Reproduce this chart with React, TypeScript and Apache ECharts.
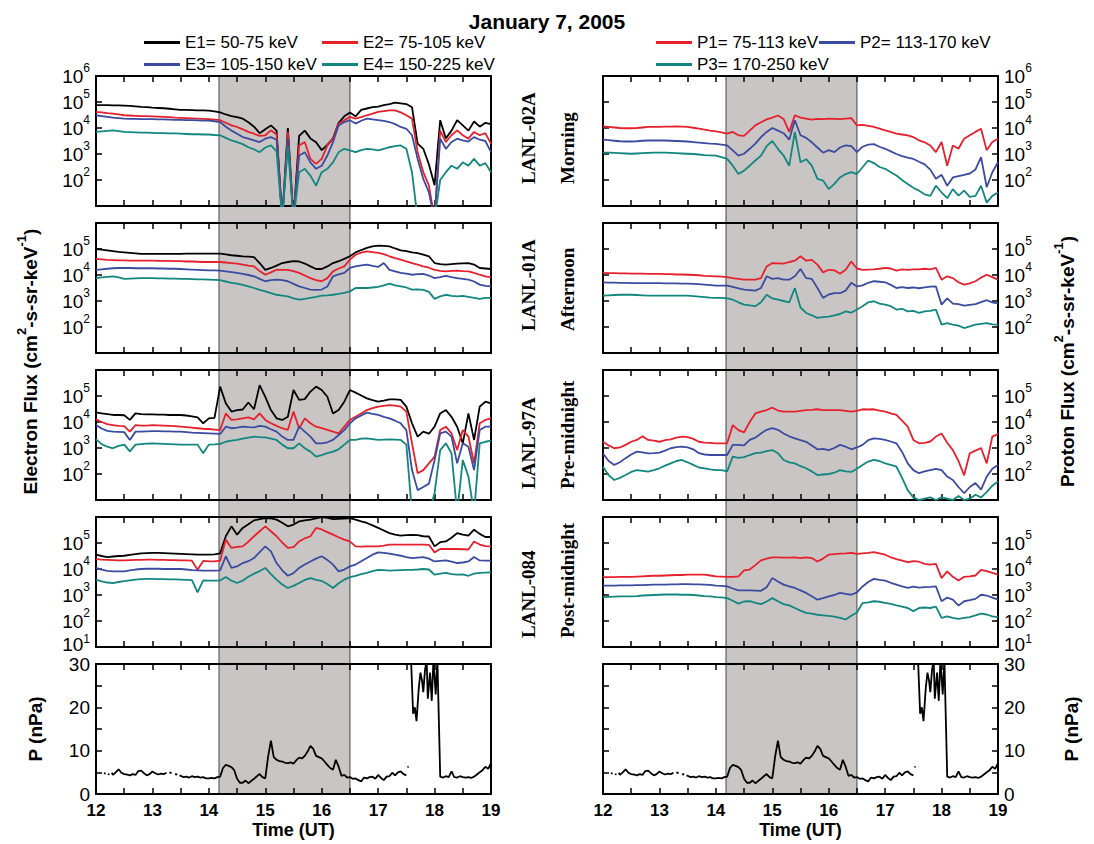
import React, { useEffect, useRef } from "react";
import * as echarts from "echarts";

// ---------------- DATA ----------------
// Time axis (UT hours) shared by all flux series
const TIME = [
  12.0, 12.1, 12.2, 12.3, 12.4, 12.5, 12.6, 12.7, 12.8, 12.9,
  13.0, 13.1, 13.2, 13.3, 13.4, 13.5, 13.6, 13.7, 13.8, 13.9,
  14.0, 14.1, 14.2, 14.3, 14.4, 14.5, 14.6, 14.7, 14.8, 14.9,
  15.0, 15.1, 15.2, 15.3, 15.4, 15.5, 15.6, 15.7, 15.8, 15.9,
  16.0, 16.1, 16.2, 16.3, 16.4, 16.5, 16.6, 16.7, 16.8, 16.9,
  17.0, 17.1, 17.2, 17.3, 17.4, 17.5, 17.6, 17.7, 17.8, 17.9,
  18.0, 18.1, 18.2, 18.3, 18.4, 18.5, 18.6, 18.7, 18.8, 18.9,
  19.0,
];

// Flux values are stored as log10(flux) (values < 1 are dropouts below the axis)
// LANL-02A electrons
const LANL02A_E1 = [
  4.88, 4.88, 4.88, 4.87, 4.87, 4.86, 4.85, 4.83, 4.81, 4.80,
  4.78, 4.77, 4.76, 4.74, 4.72, 4.70, 4.70, 4.69, 4.68, 4.68,
  4.67, 4.64, 4.60, 4.52, 4.46, 4.42, 4.36, 4.22, 4.05, 3.80,
  3.95, 4.10, 3.90, 0.5, 4.00, 0.5, 3.70, 3.90, 3.60, 3.45,
  3.15, 3.35, 3.60, 4.20, 4.45, 4.60, 4.45, 4.70, 4.75, 4.80,
  4.82, 4.88, 4.92, 4.98, 4.95, 4.92, 4.80, 3.40, 3.20, 2.60,
  1.80, 4.30, 3.60, 3.90, 4.30, 4.10, 3.90, 4.25, 4.05, 4.20,
  4.15,
];
const LANL02A_E2 = [
  4.62, 4.60, 4.57, 4.55, 4.52, 4.49, 4.48, 4.47, 4.46, 4.46,
  4.45, 4.44, 4.43, 4.42, 4.40, 4.39, 4.38, 4.37, 4.36, 4.35,
  4.34, 4.32, 4.30, 4.20, 4.10, 4.04, 3.95, 3.85, 3.78, 3.70,
  3.72, 3.91, 3.75, 0.5, 3.85, 0.5, 3.33, 3.46, 2.81, 2.62,
  2.81, 3.33, 3.59, 4.17, 4.30, 4.43, 4.36, 4.42, 4.49, 4.55,
  4.62, 4.65, 4.68, 4.68, 4.60, 4.49, 4.36, 3.07, 2.30, 1.78,
  0.5, 3.90, 3.46, 3.72, 3.91, 3.72, 3.59, 3.85, 3.72, 3.80,
  3.40,
];
const LANL02A_E3 = [
  4.49, 4.46, 4.43, 4.40, 4.38, 4.36, 4.35, 4.35, 4.34, 4.34,
  4.34, 4.33, 4.33, 4.32, 4.31, 4.31, 4.30, 4.30, 4.29, 4.28,
  4.28, 4.26, 4.23, 4.05, 3.90, 3.78, 3.65, 3.59, 3.52, 3.46,
  3.59, 3.65, 3.55, 0.5, 3.59, 0.5, 2.94, 3.07, 2.68, 2.43,
  2.55, 2.94, 3.46, 4.10, 4.23, 4.30, 4.17, 4.28, 4.36, 4.33,
  4.30, 4.27, 4.23, 4.15, 4.04, 3.97, 3.72, 2.81, 2.04, 1.52,
  0.5, 3.59, 3.20, 3.46, 3.59, 3.52, 3.48, 3.65, 3.55, 3.50,
  3.07,
];
const LANL02A_E4 = [
  3.85, 3.87, 3.89, 3.91, 3.88, 3.85, 3.84, 3.83, 3.82, 3.82,
  3.81, 3.80, 3.80, 3.79, 3.79, 3.78, 3.77, 3.76, 3.76, 3.75,
  3.75, 3.73, 3.72, 3.62, 3.52, 3.46, 3.38, 3.26, 3.18, 3.07,
  3.25, 3.33, 3.10, 0.5, 3.30, 0.5, 2.30, 2.43, 2.17, 1.78,
  2.30, 2.43, 2.68, 3.07, 3.20, 3.14, 3.07, 3.15, 3.20, 3.18,
  3.14, 3.20, 3.26, 3.30, 3.33, 3.20, 2.30, 0.5, 0.5, 0.5,
  0.5, 2.00, 2.30, 2.55, 2.43, 2.68, 2.55, 2.81, 2.55, 2.65,
  2.30,
];
// LANL-01A electrons
const LANL01A_E1 = [
  5.00, 4.98, 4.95, 4.92, 4.89, 4.87, 4.85, 4.83, 4.81, 4.81,
  4.81, 4.81, 4.81, 4.81, 4.81, 4.81, 4.82, 4.82, 4.82, 4.82,
  4.82, 4.82, 4.82, 4.79, 4.76, 4.74, 4.72, 4.71, 4.69, 4.46,
  4.20, 4.27, 4.36, 4.46, 4.50, 4.53, 4.52, 4.44, 4.33, 4.23,
  4.23, 4.33, 4.46, 4.53, 4.62, 4.72, 4.87, 4.96, 5.04, 5.10,
  5.13, 5.12, 5.10, 5.02, 4.95, 4.92, 4.87, 4.84, 4.78, 4.72,
  4.46, 4.42, 4.40, 4.42, 4.44, 4.45, 4.46, 4.40, 4.27, 4.25,
  4.23,
];
const LANL01A_E2 = [
  4.62, 4.60, 4.58, 4.57, 4.56, 4.56, 4.55, 4.55, 4.55, 4.55,
  4.55, 4.54, 4.54, 4.54, 4.53, 4.53, 4.52, 4.52, 4.51, 4.50,
  4.50, 4.50, 4.50, 4.48, 4.46, 4.44, 4.40, 4.36, 4.33, 4.15,
  4.01, 4.10, 4.20, 4.20, 4.20, 4.15, 4.08, 3.98, 3.88, 3.80,
  3.76, 3.88, 4.14, 4.25, 4.33, 4.59, 4.78, 4.86, 4.91, 4.88,
  4.85, 4.80, 4.72, 4.65, 4.59, 4.52, 4.46, 4.40, 4.33, 4.28,
  4.20, 4.16, 4.14, 4.16, 4.17, 4.15, 4.14, 4.08, 4.01, 3.95,
  3.91,
];
const LANL01A_E3 = [
  4.20, 4.22, 4.24, 4.26, 4.27, 4.27, 4.27, 4.26, 4.26, 4.26,
  4.26, 4.25, 4.25, 4.24, 4.24, 4.23, 4.22, 4.21, 4.20, 4.19,
  4.18, 4.18, 4.17, 4.14, 4.11, 4.08, 4.04, 4.00, 3.95, 3.85,
  3.76, 3.80, 3.82, 3.80, 3.76, 3.66, 3.56, 3.50, 3.44, 3.43,
  3.44, 3.56, 3.95, 4.02, 4.08, 4.27, 4.33, 4.37, 4.40, 4.35,
  4.31, 4.46, 4.20, 4.14, 4.08, 4.05, 4.01, 4.03, 4.04, 3.98,
  3.88, 3.92, 3.97, 3.92, 3.88, 3.85, 3.82, 3.75, 3.63, 3.58,
  3.56,
];
const LANL01A_E4 = [
  3.88, 3.91, 3.93, 3.95, 3.91, 3.85, 3.86, 3.87, 3.88, 3.88,
  3.88, 3.87, 3.87, 3.86, 3.86, 3.85, 3.85, 3.84, 3.83, 3.83,
  3.82, 3.81, 3.80, 3.75, 3.70, 3.67, 3.62, 3.56, 3.50, 3.43,
  3.37, 3.30, 3.24, 3.21, 3.18, 3.10, 3.05, 3.08, 3.12, 3.16,
  3.21, 3.22, 3.24, 3.27, 3.31, 3.37, 3.50, 3.50, 3.50, 3.52,
  3.54, 3.60, 3.67, 3.60, 3.56, 3.52, 3.44, 3.45, 3.43, 3.35,
  3.08, 3.18, 3.24, 3.20, 3.18, 3.20, 3.16, 3.12, 3.08, 3.12,
  3.12,
];
// LANL-97A electrons
const LANL97A_E1 = [
  4.37, 4.33, 4.30, 4.27, 4.27, 4.26, 4.08, 4.33, 4.30, 4.29,
  4.29, 4.28, 4.28, 4.27, 4.27, 4.27, 4.25, 4.22, 4.18, 3.95,
  4.14, 4.16, 5.36, 4.72, 4.40, 4.46, 4.48, 4.75, 4.49, 5.42,
  4.97, 4.46, 4.14, 4.08, 4.20, 5.23, 4.85, 4.88, 5.17, 5.36,
  5.23, 4.97, 4.33, 4.46, 4.78, 5.23, 5.13, 5.02, 4.91, 4.84,
  4.78, 4.82, 4.87, 4.87, 4.85, 4.59, 3.95, 3.44, 3.63, 3.55,
  3.82, 4.33, 4.46, 4.20, 3.82, 3.18, 4.33, 3.31, 4.59, 4.78,
  4.72,
];
const LANL97A_E2 = [
  4.10, 4.00, 3.92, 3.88, 3.85, 3.84, 3.63, 3.88, 3.86, 3.86,
  3.88, 3.87, 3.86, 3.85, 3.84, 3.82, 3.80, 3.78, 3.76, 3.74,
  3.73, 3.71, 3.69, 4.33, 4.08, 4.10, 4.14, 4.18, 4.10, 4.33,
  4.08, 3.95, 3.85, 3.76, 3.70, 4.40, 3.75, 4.14, 3.95, 3.82,
  3.76, 3.70, 3.63, 3.56, 3.82, 4.08, 4.20, 4.33, 4.46, 4.53,
  4.59, 4.62, 4.65, 4.63, 4.59, 4.40, 3.18, 2.03, 2.15, 2.41,
  2.67, 3.69, 3.82, 3.56, 2.92, 3.69, 3.44, 2.41, 3.95, 4.08,
  4.14,
];
const LANL97A_E3 = [
  3.88, 3.75, 3.66, 3.63, 3.62, 3.61, 3.31, 3.63, 3.63, 3.64,
  3.65, 3.65, 3.64, 3.64, 3.63, 3.63, 3.61, 3.59, 3.58, 3.57,
  3.56, 3.55, 3.54, 3.82, 3.76, 3.78, 3.82, 3.80, 3.79, 3.85,
  3.82, 3.72, 3.63, 3.44, 3.31, 3.31, 3.82, 3.63, 3.44, 3.18,
  3.18, 3.22, 3.31, 3.50, 3.69, 3.95, 4.14, 4.25, 4.36, 4.31,
  4.27, 4.20, 4.14, 4.05, 3.95, 3.69, 2.15, 1.38, 1.50, 1.63,
  2.54, 3.56, 3.63, 3.44, 2.41, 3.18, 3.05, 2.15, 3.69, 3.82,
  3.82,
];
const LANL97A_E4 = [
  3.33, 3.15, 3.05, 2.99, 3.08, 3.13, 2.87, 3.13, 3.15, 3.17,
  3.18, 3.17, 3.16, 3.15, 3.14, 3.13, 3.13, 3.13, 3.13, 2.80,
  3.13, 3.14, 3.16, 3.24, 3.28, 3.31, 3.36, 3.40, 3.44, 3.42,
  3.41, 3.36, 3.31, 3.13, 2.99, 2.99, 3.18, 2.99, 2.86, 2.67,
  2.73, 2.80, 2.86, 2.95, 3.13, 3.31, 3.31, 3.36, 3.37, 3.34,
  3.31, 3.32, 3.33, 3.32, 3.31, 3.13, 0.5, 0.5, 0.5, 0.5,
  1.26, 2.92, 3.18, 2.80, 0.5, 2.54, 1.90, 0.5, 3.18, 3.24,
  3.28,
];
// LANL-084 electrons
const LANL084_E1 = [
  4.55, 4.50, 4.46, 4.48, 4.50, 4.51, 4.54, 4.57, 4.60, 4.61,
  4.62, 4.62, 4.61, 4.60, 4.59, 4.58, 4.57, 4.56, 4.55, 4.55,
  4.55, 4.56, 4.60, 5.26, 5.64, 5.32, 5.58, 5.72, 5.87, 5.92,
  5.96, 5.95, 5.90, 5.78, 5.64, 5.71, 5.83, 5.87, 5.90, 5.95,
  6.00, 5.97, 5.92, 5.93, 5.94, 5.96, 5.90, 5.83, 5.77, 5.68,
  5.58, 5.48, 5.38, 5.32, 5.28, 5.30, 5.31, 5.30, 5.26, 5.25,
  4.87, 5.03, 5.06, 5.20, 5.38, 5.32, 5.28, 5.51, 5.35, 5.23,
  5.23,
];
const LANL084_E2 = [
  4.38, 4.36, 4.35, 4.34, 4.33, 4.33, 4.34, 4.35, 4.35, 4.36,
  4.36, 4.35, 4.35, 4.34, 4.34, 4.33, 4.33, 4.32, 3.97, 4.31,
  4.29, 4.29, 4.32, 5.13, 4.81, 4.85, 4.87, 5.05, 5.26, 5.45,
  5.64, 5.45, 5.26, 5.02, 4.81, 4.84, 5.06, 5.18, 5.26, 5.58,
  5.52, 5.42, 5.32, 5.22, 5.13, 5.06, 4.87, 4.86, 4.87, 4.87,
  4.87, 4.90, 4.94, 4.94, 4.94, 4.94, 4.94, 4.94, 4.94, 4.93,
  4.64, 4.77, 4.77, 4.77, 4.77, 4.76, 4.75, 5.06, 4.94, 4.88,
  4.87,
];
const LANL084_E3 = [
  4.04, 3.98, 3.93, 3.91, 3.91, 3.91, 3.95, 3.98, 4.00, 4.01,
  4.01, 4.01, 4.00, 4.00, 4.00, 4.00, 3.98, 3.96, 3.95, 3.94,
  3.94, 3.94, 3.95, 4.49, 4.04, 4.10, 4.23, 4.30, 4.42, 4.65,
  4.87, 4.68, 4.23, 3.95, 3.74, 3.84, 4.04, 4.17, 4.29, 4.40,
  4.49, 4.35, 4.17, 3.91, 3.98, 4.10, 4.17, 4.30, 4.42, 4.55,
  4.64, 4.62, 4.59, 4.55, 4.51, 4.46, 4.42, 4.44, 4.46, 4.40,
  4.29, 4.31, 4.33, 4.28, 4.23, 4.25, 4.29, 4.46, 4.33, 4.32,
  4.32,
];
const LANL084_E4 = [
  3.59, 3.52, 3.48, 3.46, 3.50, 3.53, 3.56, 3.59, 3.61, 3.62,
  3.62, 3.61, 3.61, 3.60, 3.60, 3.59, 3.58, 3.57, 3.10, 3.56,
  3.55, 3.55, 3.56, 3.69, 3.55, 3.46, 3.55, 3.70, 3.82, 3.92,
  4.04, 3.80, 3.59, 3.40, 3.27, 3.35, 3.46, 3.58, 3.65, 3.58,
  3.54, 3.42, 3.27, 3.45, 3.59, 3.69, 3.74, 3.80, 3.85, 3.92,
  3.97, 3.96, 3.94, 3.95, 3.96, 3.97, 3.97, 3.98, 4.00, 3.98,
  3.78, 3.82, 3.85, 3.80, 3.78, 3.79, 3.74, 3.82, 3.85, 3.86,
  3.87,
];

// LANL-02A protons
const LANL02A_P1 = [
  4.06, 4.04, 4.02, 4.00, 3.99, 3.99, 4.00, 4.02, 4.04, 4.04,
  4.04, 4.05, 4.05, 4.06, 4.05, 4.04, 4.01, 3.98, 3.94, 3.90,
  3.87, 3.83, 3.78, 3.85, 3.72, 3.70, 3.90, 4.10, 4.22, 4.33,
  4.40, 4.48, 4.35, 3.85, 4.49, 4.40, 4.36, 4.32, 4.35, 4.34,
  4.36, 4.35, 4.34, 4.36, 4.38, 4.10, 4.12, 4.08, 4.04, 3.98,
  3.91, 3.85, 3.78, 3.75, 3.72, 3.65, 3.52, 3.45, 3.33, 3.07,
  3.46, 2.55, 3.33, 3.20, 3.59, 3.72, 3.85, 3.97, 3.14, 3.46,
  3.59,
];
const LANL02A_P2 = [
  3.55, 3.53, 3.51, 3.49, 3.48, 3.48, 3.49, 3.51, 3.52, 3.52,
  3.52, 3.52, 3.51, 3.50, 3.49, 3.48, 3.46, 3.44, 3.42, 3.40,
  3.39, 3.36, 3.33, 3.14, 2.94, 3.01, 3.20, 3.40, 3.65, 3.85,
  4.00, 3.90, 3.80, 3.55, 4.30, 3.72, 3.62, 3.45, 3.25, 3.05,
  3.15, 3.07, 3.25, 3.33, 3.30, 3.07, 3.28, 3.36, 3.38, 3.28,
  3.20, 3.10, 3.00, 2.92, 2.86, 2.81, 2.70, 2.60, 2.40, 2.05,
  2.20, 1.78, 2.10, 2.15, 2.20, 2.25, 2.40, 2.88, 1.72, 2.30,
  2.68,
];
const LANL02A_P3 = [
  3.05, 3.05, 3.04, 3.03, 3.02, 3.01, 3.02, 3.03, 3.04, 3.05,
  3.05, 3.05, 3.04, 3.03, 3.02, 3.01, 3.00, 2.98, 2.96, 2.95,
  2.94, 2.88, 2.81, 2.55, 2.23, 2.36, 2.55, 2.75, 2.94, 3.30,
  3.50, 3.20, 2.94, 2.55, 3.85, 2.68, 2.80, 2.55, 2.04, 1.98,
  1.65, 1.85, 2.10, 2.23, 2.30, 2.23, 2.49, 2.75, 2.65, 2.50,
  2.43, 2.30, 2.17, 2.00, 1.85, 1.70, 1.59, 1.45, 1.39, 1.78,
  1.52, 1.30, 1.65, 1.40, 1.59, 1.35, 1.39, 1.78, 1.13, 1.39,
  1.52,
];
// LANL-01A protons
const LANL01A_P1 = [
  4.08, 4.07, 4.07, 4.06, 4.06, 4.05, 4.05, 4.05, 4.04, 4.04,
  4.04, 4.03, 4.03, 4.02, 4.02, 4.01, 4.00, 3.99, 3.97, 3.96,
  3.95, 3.94, 3.92, 3.88, 3.85, 3.82, 3.82, 3.82, 3.88, 4.33,
  4.46, 4.45, 4.44, 4.50, 4.55, 4.72, 4.55, 4.58, 4.40, 4.10,
  4.20, 4.18, 4.05, 4.20, 4.52, 4.25, 4.20, 4.21, 4.22, 4.24,
  4.27, 4.25, 4.17, 4.22, 4.20, 4.22, 4.22, 4.24, 4.22, 4.27,
  3.82, 3.95, 3.88, 3.72, 3.63, 3.68, 3.76, 3.90, 4.01, 3.92,
  3.82,
];
const LANL01A_P2 = [
  3.72, 3.71, 3.71, 3.70, 3.70, 3.69, 3.69, 3.69, 3.69, 3.69,
  3.69, 3.68, 3.68, 3.68, 3.67, 3.67, 3.66, 3.65, 3.63, 3.61,
  3.59, 3.59, 3.59, 3.54, 3.49, 3.44, 3.42, 3.40, 3.50, 3.95,
  3.85, 3.88, 3.82, 3.82, 3.95, 4.23, 3.88, 3.85, 3.50, 3.12,
  3.25, 3.30, 3.30, 3.40, 3.70, 3.56, 3.60, 3.70, 3.76, 3.74,
  3.72, 3.62, 3.50, 3.53, 3.50, 3.52, 3.49, 3.52, 3.55, 3.56,
  2.86, 3.10, 2.90, 2.88, 2.82, 2.85, 2.88, 2.96, 3.03, 2.95,
  2.90,
];
const LANL01A_P3 = [
  3.21, 3.22, 3.23, 3.24, 3.24, 3.24, 3.23, 3.22, 3.21, 3.21,
  3.21, 3.21, 3.21, 3.21, 3.21, 3.21, 3.19, 3.17, 3.15, 3.13,
  3.12, 3.12, 3.10, 3.05, 2.95, 2.86, 2.83, 2.80, 2.95, 3.24,
  3.10, 3.05, 3.00, 2.95, 3.50, 2.75, 2.54, 2.45, 2.35, 2.38,
  2.40, 2.45, 2.50, 2.60, 2.55, 2.67, 2.80, 2.95, 2.99, 2.90,
  2.86, 2.80, 2.67, 2.70, 2.60, 2.62, 2.54, 2.60, 2.62, 2.67,
  2.09, 2.15, 2.09, 2.05, 1.96, 2.02, 2.09, 2.12, 2.15, 2.10,
  2.09,
];
// LANL-97A protons
const LANL97A_P1 = [
  3.24, 3.10, 2.99, 3.02, 3.12, 3.24, 3.31, 3.45, 3.31, 3.28,
  3.24, 3.30, 3.33, 3.40, 3.44, 3.42, 3.35, 3.24, 3.21, 3.20,
  3.18, 3.18, 3.18, 3.88, 3.69, 3.60, 4.00, 4.33, 4.40, 4.46,
  4.55, 4.44, 4.40, 4.40, 4.40, 4.43, 4.46, 4.47, 4.49, 4.46,
  4.46, 4.46, 4.46, 4.43, 4.40, 4.43, 4.49, 4.48, 4.49, 4.44,
  4.40, 4.33, 4.27, 4.05, 3.82, 3.31, 3.18, 3.20, 3.25, 3.44,
  3.56, 3.20, 2.92, 2.50, 1.95, 2.80, 2.90, 3.00, 2.41, 3.44,
  3.54,
];
const LANL97A_P2 = [
  2.79, 2.50, 2.35, 2.45, 2.61, 2.75, 2.86, 2.83, 2.79, 2.80,
  2.82, 2.90, 2.99, 3.03, 3.05, 3.02, 2.95, 2.80, 2.75, 2.73,
  2.73, 2.73, 2.73, 3.12, 3.12, 3.10, 3.31, 3.40, 3.56, 3.70,
  3.76, 3.70, 3.56, 3.45, 3.37, 3.30, 3.24, 3.10, 2.95, 2.97,
  2.92, 3.00, 3.12, 3.05, 2.95, 3.02, 3.12, 3.30, 3.37, 3.35,
  3.31, 3.25, 3.18, 2.85, 2.41, 2.15, 2.03, 2.10, 2.15, 2.20,
  2.15, 1.90, 1.77, 1.50, 1.26, 1.50, 1.65, 1.40, 1.90, 2.20,
  2.35,
];
const LANL97A_P3 = [
  2.28, 1.95, 1.77, 1.85, 1.96, 2.08, 2.15, 2.12, 2.09, 2.15,
  2.22, 2.32, 2.41, 2.50, 2.54, 2.45, 2.35, 2.25, 2.22, 2.18,
  2.15, 2.15, 2.10, 2.67, 2.62, 2.65, 2.73, 2.80, 2.82, 2.88,
  2.92, 2.80, 2.54, 2.45, 2.41, 2.30, 2.22, 2.10, 1.96, 1.98,
  2.00, 2.05, 2.15, 2.10, 2.08, 2.20, 2.35, 2.48, 2.54, 2.50,
  2.41, 2.35, 2.28, 1.85, 1.38, 1.10, 1.00, 1.05, 1.10, 1.00,
  1.10, 1.05, 1.00, 1.15, 1.00, 1.05, 1.20, 1.10, 1.30, 1.55,
  1.71,
];
// LANL-084 protons
const LANL084_P1 = [
  3.69, 3.69, 3.69, 3.70, 3.70, 3.70, 3.71, 3.72, 3.73, 3.74,
  3.74, 3.75, 3.76, 3.77, 3.77, 3.78, 3.78, 3.78, 3.78, 3.75,
  3.72, 3.71, 3.70, 3.70, 3.72, 3.95, 3.98, 4.15, 4.33, 4.40,
  4.45, 4.45, 4.44, 4.44, 4.45, 4.42, 4.45, 4.42, 4.29, 4.40,
  4.55, 4.57, 4.59, 4.60, 4.62, 4.58, 4.60, 4.62, 4.65, 4.60,
  4.55, 4.45, 4.38, 4.32, 4.26, 4.30, 4.28, 4.20, 4.17, 4.20,
  3.65, 3.91, 3.70, 3.56, 3.70, 3.72, 3.75, 3.97, 3.92, 3.85,
  3.78,
];
const LANL084_P2 = [
  3.36, 3.36, 3.36, 3.37, 3.37, 3.37, 3.38, 3.38, 3.39, 3.40,
  3.40, 3.40, 3.41, 3.41, 3.42, 3.42, 3.41, 3.41, 3.40, 3.39,
  3.36, 3.35, 3.33, 3.25, 3.18, 3.18, 3.18, 3.17, 3.16, 3.30,
  3.65, 3.52, 3.40, 3.33, 3.27, 3.18, 3.08, 2.95, 2.82, 2.88,
  2.95, 3.00, 3.08, 3.04, 3.01, 3.10, 3.33, 3.50, 3.62, 3.58,
  3.55, 3.47, 3.40, 3.33, 3.27, 3.32, 3.28, 3.30, 3.31, 3.33,
  2.76, 2.90, 2.82, 2.59, 2.76, 2.80, 2.85, 3.01, 2.98, 2.90,
  2.82,
];
const LANL084_P3 = [
  2.92, 2.93, 2.94, 2.95, 2.95, 2.95, 2.96, 2.98, 2.99, 3.00,
  3.01, 3.02, 3.02, 3.02, 3.01, 3.01, 3.00, 2.98, 2.96, 2.95,
  2.92, 2.91, 2.88, 2.78, 2.67, 2.75, 2.76, 2.70, 2.65, 2.75,
  2.88, 2.76, 2.65, 2.60, 2.50, 2.40, 2.31, 2.28, 2.24, 2.22,
  2.20, 2.17, 2.12, 2.06, 2.20, 2.33, 2.69, 2.72, 2.76, 2.74,
  2.70, 2.66, 2.60, 2.55, 2.50, 2.38, 2.50, 2.52, 2.50, 2.55,
  2.12, 2.18, 2.12, 2.08, 2.12, 2.15, 2.22, 2.28, 2.25, 2.18,
  2.15,
];

// Solar wind dynamic pressure (nPa); null = data gap
const P_TIME = [
  12.14, 12.17, 12.19, 12.21, 12.24, 12.26, 12.28, 12.30, 12.35, 12.40,
  12.45, 12.50, 12.55, 12.60, 12.65, 12.70, 12.75, 12.80, 12.85, 12.90,
  12.95, 13.00, 13.05, 13.10, 13.15, 13.20, 13.25, 13.28, 13.30, 13.34,
  13.36, 13.40, 13.44, 13.46, 13.48, 13.50, 13.55, 13.60, 13.65, 13.70,
  13.75, 13.80, 13.85, 13.90, 13.95, 14.00, 14.05, 14.10, 14.15, 14.20,
  14.25, 14.30, 14.35, 14.40, 14.45, 14.50, 14.55, 14.60, 14.65, 14.70,
  14.75, 14.80, 14.85, 14.90, 14.95, 15.00, 15.05, 15.10, 15.15, 15.20,
  15.25, 15.30, 15.35, 15.40, 15.45, 15.50, 15.55, 15.60, 15.65, 15.70,
  15.75, 15.80, 15.85, 15.90, 15.95, 16.00, 16.05, 16.10, 16.15, 16.20,
  16.25, 16.30, 16.35, 16.40, 16.45, 16.50, 16.55, 16.60, 16.65, 16.70,
  16.75, 16.80, 16.85, 16.90, 16.95, 17.00, 17.05, 17.10, 17.15, 17.20,
  17.25, 17.30, 17.35, 17.40, 17.45, 17.50, 17.51, 17.52, 17.54, 17.56,
  17.58, 17.62, 17.65, 17.68, 17.72, 17.75, 17.78, 17.80, 17.83, 17.86,
  17.88, 17.92, 17.95, 17.98, 18.02, 18.05, 18.10, 18.15, 18.20, 18.25,
  18.30, 18.35, 18.40, 18.45, 18.50, 18.55, 18.60, 18.65, 18.70, 18.75,
  18.80, 18.85, 18.90, 18.95, 19.00,
];
const P_NPA = [
  4.8, 4.7, null, 4.6, 4.5, null, 4.9, 4.4, 5.0, 5.7,
  4.9, 4.6, 4.5, 4.3, 4.6, 4.4, 5.3, 5.4, 4.8, 4.3,
  4.6, 5.2, 4.8, 4.5, 4.7, 4.6, 4.9, null, 5.0, 4.8,
  null, 4.6, 4.5, null, 4.3, 4.2, 3.9, 4.0, 3.8, 4.1,
  3.9, 4.0, 3.8, 3.9, 3.6, 3.6, 3.7, 3.6, 3.9, 4.0,
  6.0, 6.7, 6.5, 6.2, 5.5, 3.5, 2.6, 2.6, 3.1, 2.5,
  3.0, 3.5, 4.1, 4.6, 3.9, 3.6, 8.6, 12.3, 8.5, 7.9,
  7.6, 7.5, 7.2, 7.1, 7.3, 7.0, 7.8, 8.4, 8.2, 8.8,
  9.8, 11.1, 10.4, 8.8, 8.5, 8.2, 7.5, 6.7, 6.0, 5.6,
  7.9, 6.3, 4.2, 4.4, 3.8, 3.9, 3.5, 3.6, 3.2, 2.9,
  3.8, 3.6, 3.9, 4.0, 3.5, 4.4, 3.7, 3.2, 4.0, 4.1,
  4.9, 4.3, 5.0, 5.2, 4.6, 4.3, null, 6.2, 6.3, null,
  32, 18.5, 20.0, 16.8, 24.5, 28.0, 26.0, 23.5, 28.5, 31,
  22, 28, 21.5, 31, 23, 31, 4.0, 3.8, 4.1, 3.9,
  5.2, 3.9, 3.8, 4.1, 3.9, 3.8, 3.9, 3.7, 4.0, 4.5,
  5.0, 5.5, 6.3, 5.8, 7.1,
];

const SHADE_START = 14.18;
const SHADE_END = 16.5;

const E_NAMES = ["E1= 50-75 keV", "E2= 75-105 keV", "E3= 105-150 keV", "E4= 150-225 keV"];
const P_NAMES = ["P1= 75-113 keV", "P2= 113-170 keV", "P3= 170-250 keV"];
const STATIONS = ["LANL-02A", "LANL-01A", "LANL-97A", "LANL-084"];
const SECTORS = ["Morning", "Afternoon", "Pre-midnight", "Post-midnight"];
// exponents that carry a tick label on each flux row
const LOG_LABELS = [[2, 3, 4, 5, 6], [2, 3, 4, 5], [2, 3, 4, 5], [1, 2, 3, 4, 5]];

const E_ROWS = [
  [LANL02A_E1, LANL02A_E2, LANL02A_E3, LANL02A_E4],
  [LANL01A_E1, LANL01A_E2, LANL01A_E3, LANL01A_E4],
  [LANL97A_E1, LANL97A_E2, LANL97A_E3, LANL97A_E4],
  [LANL084_E1, LANL084_E2, LANL084_E3, LANL084_E4],
];
const P_ROWS = [
  [LANL02A_P1, LANL02A_P2, LANL02A_P3],
  [LANL01A_P1, LANL01A_P2, LANL01A_P3],
  [LANL97A_P1, LANL97A_P2, LANL97A_P3],
  [LANL084_P1, LANL084_P2, LANL084_P3],
];

// ---------------- STYLE / LAYOUT ----------------
const E_COLORS = ["#000000", "#e6202c", "#3b4ba0", "#12877f"];
const P_COLORS = ["#e6202c", "#3b4ba0", "#12877f"];
const FONT = "'Liberation Sans', Arial, sans-serif";
const SERIF = "'Liberation Serif', 'Times New Roman', serif";
const COL_LEFT = [96, 603];
const COL_W = 395;
const ROW_TOP = [76, 223, 370, 517, 664];
const ROW_H = 130;
const LABEL_START = [184, 331, 489, 638];
const LINE_W = 1.8;

function buildOption() {
  const grid: any[] = [];
  const xAxis: any[] = [];
  const yAxis: any[] = [];
  const series: any[] = [];
  const axisLine = { show: true, onZero: false, lineStyle: { color: "#000", width: 2 } };
  const tick = { show: true, inside: true, length: 6, lineStyle: { color: "#000", width: 1.5 } };
  const noTick = { show: false };

  for (let c = 0; c < 2; c++) {
    for (let r = 0; r < 5; r++) {
      const g = c * 5 + r;
      grid.push({ left: COL_LEFT[c], top: ROW_TOP[r], width: COL_W, height: ROW_H });
      const isP = r === 4;
      xAxis.push({
        type: "value", gridIndex: g, min: 12, max: 19, interval: 0.5, position: "bottom",
        axisLine, axisTick: tick, splitLine: { show: false },
        axisLabel: {
          show: isP, margin: 8, fontSize: 17, fontWeight: "bold", fontFamily: FONT, color: "#000",
          formatter: (v: number) => (Math.abs(v - Math.round(v)) < 1e-6 ? String(Math.round(v)) : ""),
        },
        name: isP ? "Time (UT)" : "", nameLocation: "middle", nameGap: 27,
        nameTextStyle: { fontSize: 18, fontWeight: "bold", fontFamily: FONT, color: "#000" },
      });
      xAxis.push({
        type: "value", gridIndex: g, min: 12, max: 19, interval: 0.5, position: "top",
        axisLine, axisTick: tick, splitLine: { show: false }, axisLabel: { show: false },
      });
      const labelPos = c === 0 ? "left" : "right";
      const otherPos = c === 0 ? "right" : "left";
      const base = isP
        ? { type: "value", min: 0, max: 30, interval: 5 }
        : { type: "log", logBase: 10, min: 10, max: 1e6, splitNumber: 5 };
      const labeled = {
        ...base, gridIndex: g, position: labelPos, axisLine, axisTick: tick, splitLine: { show: false },
        axisLabel: isP
          ? { show: true, margin: 6, fontSize: 19, fontFamily: FONT, color: "#000",
              formatter: (v: number) => (Math.round(v) % 10 === 0 ? String(Math.round(v)) : "") }
          : {
              show: true, margin: 6,
              formatter: (v: number) => {
                const e = Math.round(Math.log10(v));
                if (!LOG_LABELS[r].includes(e)) return "";
                return e === 1 ? `{b1|10}{s|${e}}` : `{b|10}{s|${e}}`;
              },
              rich: {
                b: { fontSize: 19, fontFamily: FONT, color: "#000", lineHeight: 28 },
                b1: { fontSize: 19, fontFamily: FONT, color: "#000", lineHeight: 28, padding: [0, 0, 6, 0] },
                s: { fontSize: 12, fontFamily: FONT, color: "#000", lineHeight: 12, verticalAlign: "top" },
              },
            },
      };
      const other = {
        ...base, gridIndex: g, position: otherPos, axisLine, axisTick: c === 1 ? tick : noTick,
        splitLine: { show: false }, axisLabel: { show: false },
      };
      if (c === 0) { yAxis.push(labeled); yAxis.push(other); } else { yAxis.push(other); yAxis.push(labeled); }
      const yIdx = c === 0 ? 2 * g : 2 * g + 1;
      const xIdx = 2 * g;
      if (isP) {
        series.push({
          type: "line", name: "P", xAxisIndex: xIdx, yAxisIndex: yIdx,
          data: P_TIME.map((t, i) => [t, P_NPA[i]]), connectNulls: false,
          symbol: "none", showSymbol: false, clip: true, silent: true, z: 3,
          lineStyle: { color: "#000", width: LINE_W }, itemStyle: { color: "#000" },
        });
      } else {
        const rows = c === 0 ? E_ROWS[r] : P_ROWS[r];
        const names = c === 0 ? E_NAMES : P_NAMES;
        const colors = c === 0 ? E_COLORS : P_COLORS;
        rows.forEach((vals, k) => {
          series.push({
            type: "line", name: names[k], xAxisIndex: xIdx, yAxisIndex: yIdx,
            data: TIME.map((t, i) => [t, Math.pow(10, vals[i])]),
            symbol: "none", showSymbol: false, clip: true, silent: true, z: 3,
            lineStyle: { color: colors[k], width: LINE_W }, itemStyle: { color: colors[k] },
          });
        });
      }
    }
  }

  const legendPos = [[139, 29], [317, 29], [139, 51], [317, 51], [651, 29], [814, 29], [651, 51]];
  const legendNames = [...E_NAMES, ...P_NAMES];
  const legend = legendNames.map((n, i) => ({
    data: [n], left: legendPos[i][0], top: legendPos[i][1], itemWidth: 36, itemHeight: 3,
    icon: "rect", selectedMode: false,
    textStyle: { fontSize: 17, fontFamily: FONT, color: "#000" },
  }));

  return {
    animation: false,
    backgroundColor: "#ffffff",
    title: {
      text: "January 7, 2005", left: "center", top: 6,
      textStyle: { fontSize: 21, fontWeight: "bold", fontFamily: FONT, color: "#000" },
    },
    legend, grid, xAxis, yAxis, series,
  };
}

const TITLE_RICH = {
  a: { fontSize: 19, fontWeight: "bold", fontFamily: FONT, fill: "#000", color: "#000", lineHeight: 30 },
  s: { fontSize: 13, fontWeight: "bold", fontFamily: FONT, fill: "#000", color: "#000", lineHeight: 13, verticalAlign: "top" },
};

function buildGraphics(chart: any) {
  const els: any[] = [];
  const top = ROW_TOP[0];
  const bottom = ROW_TOP[4] + ROW_H;
  [0, 10].forEach((axisIdx) => {
    const x0 = chart.convertToPixel({ xAxisIndex: axisIdx }, SHADE_START);
    const x1 = chart.convertToPixel({ xAxisIndex: axisIdx }, SHADE_END);
    els.push({ type: "rect", z: -1, silent: true, shape: { x: x0, y: top, width: x1 - x0, height: bottom - top }, style: { fill: "#c9c5c5" } });
    els.push({ type: "line", z: -1, silent: true, shape: { x1: x0, y1: top, x2: x0, y2: bottom }, style: { stroke: "#444", lineWidth: 1 } });
    els.push({ type: "line", z: -1, silent: true, shape: { x1: x1, y1: top, x2: x1, y2: bottom }, style: { stroke: "#444", lineWidth: 1 } });
  });
  const fluxMid = (ROW_TOP[0] + ROW_TOP[3] + ROW_H) / 2;
  const pMid = ROW_TOP[4] + ROW_H / 2;
  const vText = (x: number, y: number, text: string) => ({
    type: "text", x, y, rotation: Math.PI / 2, z: 10, silent: true,
    style: { text, rich: TITLE_RICH, align: "center", verticalAlign: "middle" },
  });
  els.push(vText(30, fluxMid, "{a|Electron Flux (cm}{s|2}{a|-s-sr-keV}{s|-1}{a|)}"));
  els.push(vText(1067, fluxMid, "{a|Proton Flux (cm}{s|2}{a|-s-sr-keV}{s|-1}{a|)}"));
  els.push(vText(35, pMid, "{a|P (nPa)}"));
  els.push(vText(1071, pMid, "{a|P (nPa)}"));
  for (let r = 0; r < 4; r++) {
    [[528, STATIONS[r]], [567, SECTORS[r]]].forEach(([x, t]) => {
      els.push({
        type: "text", x, y: LABEL_START[r], rotation: Math.PI / 2, z: 10, silent: true,
        style: { text: t, fontSize: 19, fontWeight: "bold", fontFamily: SERIF, fill: "#000", align: "left", verticalAlign: "middle" },
      });
    });
  }
  return els;
}

export default function App() {
  const ref = useRef<HTMLDivElement>(null);
  useEffect(() => {
    document.body.style.margin = "0";
    const chart = echarts.init(ref.current as HTMLDivElement, null, { renderer: "svg" });
    chart.setOption(buildOption() as any);
    chart.setOption({ graphic: { elements: buildGraphics(chart) } } as any);
    return () => chart.dispose();
  }, []);
  return <div ref={ref} style={{ width: 1094, height: 844 }} />;
}
